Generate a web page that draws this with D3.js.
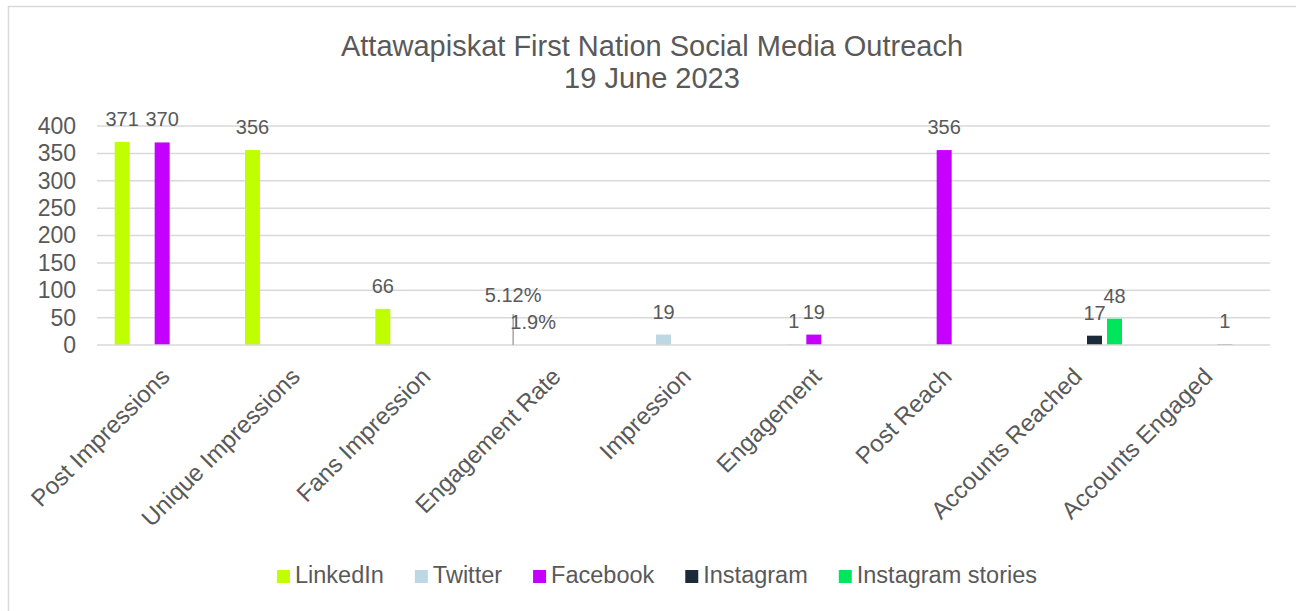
<!DOCTYPE html>
<html>
<head>
<meta charset="utf-8">
<script src="https://cdn.jsdelivr.net/npm/d3@7"></script>
<style>
  html, body { margin: 0; padding: 0; background: #fff; }
  svg { display: block; font-family: "Liberation Sans", Arial, sans-serif; }
</style>
</head>
<body>
<svg id="chart" width="1296" height="611"></svg>
<script>
// ---------- data ----------
const categories = ["Post Impressions", "Unique Impressions", "Fans Impression", "Engagement Rate",
  "Impression", "Engagement", "Post Reach", "Accounts Reached", "Accounts Engaged"];
const seriesNames = ["LinkedIn", "Twitter", "Facebook", "Instagram", "Instagram stories"];
const linkedIn         = [371, 356, 66, 0.0512, null, null, null, null, null];
const twitter          = [null, null, null, 0.019, 19, 1, null, null, null];
const facebook         = [370, null, null, null, null, 19, 356, null, null];
const instagram        = [null, null, null, null, null, null, null, 17, 1];
const instagramStories = [null, null, null, null, null, null, null, 48, null];
const yTicks = [0, 50, 100, 150, 200, 250, 300, 350, 400];
const titleLines = ["Attawapiskat First Nation Social Media Outreach", "19 June 2023"];
const percentCategory = "Engagement Rate";

const seriesValues = [linkedIn, twitter, facebook, instagram, instagramStories];
const colors = ["#bfff00", "#bdd8e4", "#c600ff", "#1c2b39", "#00e65c"];

// ---------- layout ----------
const W = 1296, H = 611;
const plot = { left: 97, right: 1270, top: 126, bottom: 345 };
const textColor = "#595959";
const gridColor = "#d9d9d9";

const svg = d3.select("#chart");
svg.append("rect").attr("width", W).attr("height", H).attr("fill", "#fff");
svg.append("rect").attr("x", 8.5).attr("y", 6.5).attr("width", 1300).attr("height", 620)
  .attr("fill", "none").attr("stroke", gridColor).attr("stroke-width", 1.5);

// title
const title = svg.append("text").attr("text-anchor", "middle").attr("fill", textColor)
  .style("font-size", "29px");
title.selectAll("tspan").data(titleLines).join("tspan")
  .attr("x", 652).attr("y", (d, i) => 56 + i * 32).text(d => d);

// scales
const x0 = d3.scaleBand().domain(categories).range([plot.left, plot.right]).padding(0);
const groupW = 100;
const x1 = d3.scaleBand().domain(seriesNames)
  .range([(x0.bandwidth() - groupW) / 2, (x0.bandwidth() + groupW) / 2])
  .paddingInner(0.25).paddingOuter(0.125);
const y = d3.scaleLinear().domain([0, 400]).range([plot.bottom, plot.top]);
const color = d3.scaleOrdinal().domain(seriesNames).range(colors);

// gridlines (all but zero line)
svg.append("g").selectAll("line").data(yTicks.filter(t => t !== 0)).join("line")
  .attr("x1", plot.left).attr("x2", plot.right)
  .attr("y1", d => y(d)).attr("y2", d => y(d))
  .attr("stroke", gridColor).attr("stroke-width", 1.5);

// y axis labels
const yAxis = d3.axisLeft(y).tickValues(yTicks).tickSize(0).tickPadding(0);
const yg = svg.append("g").attr("transform", `translate(76,0)`).call(yAxis);
yg.select(".domain").remove();
yg.selectAll("text").attr("fill", textColor).style("font-size", "23px")
  .style("font-family", "'Liberation Sans', Arial, sans-serif");

// bars
const records = [];
seriesNames.forEach((s, si) => {
  seriesValues[si].forEach((v, ci) => {
    if (v !== null) records.push({ series: s, cat: categories[ci], value: v });
  });
});

svg.append("g").selectAll("rect").data(records).join("rect")
  .attr("x", d => x0(d.cat) + x1(d.series))
  .attr("width", x1.bandwidth())
  .attr("y", d => y(d.value))
  .attr("height", d => Math.max(0, y(0) - y(d.value)))
  .attr("fill", d => color(d.series));

// category axis line drawn over the bars
svg.append("line").attr("x1", plot.left).attr("x2", plot.right)
  .attr("y1", y(0)).attr("y2", y(0))
  .attr("stroke", gridColor).attr("stroke-width", 1.6);

// data labels
const fmt = d => d.cat === percentCategory ? (+(d.value * 100).toFixed(2)) + "%" : String(d.value);
const labelLift = { "LinkedIn|Engagement Rate": 27 };   // manual label move (with leader line)

const lg = svg.append("g");
records.forEach(d => {
  const cx = x0(d.cat) + x1(d.series) + x1.bandwidth() / 2;
  const top = y(d.value);
  const lift = labelLift[d.series + "|" + d.cat] || 0;
  const base = top - 16 - lift;
  if (lift) {
    lg.append("line").attr("x1", cx).attr("x2", cx).attr("y1", base + 12).attr("y2", top)
      .attr("stroke", "#a6a6a6").attr("stroke-width", 1.5);
  }
  lg.append("text").attr("x", cx).attr("y", base).attr("text-anchor", "middle")
    .attr("fill", textColor).style("font-size", "20px").text(fmt(d));
});

// x axis labels (rotated)
svg.append("g").selectAll("text").data(categories).join("text")
  .attr("transform", d => `translate(${x0(d) + x0.bandwidth() / 2 + 9},378) rotate(-45)`)
  .attr("text-anchor", "end").attr("fill", textColor).style("font-size", "24px")
  .text(d => d);

// legend
const legend = svg.append("g");
let lx = 0;
seriesNames.forEach(s => {
  const g = legend.append("g");
  g.append("rect").attr("x", 0).attr("y", 570).attr("width", 13).attr("height", 13).attr("fill", color(s));
  const t = g.append("text").attr("x", 18).attr("y", 583).attr("fill", textColor)
    .style("font-size", "23.5px").text(s);
  const w = 18 + t.node().getComputedTextLength();
  g.attr("transform", `translate(${lx},0)`);
  lx += w + 31;
});
const totalW = lx - 31;
legend.attr("transform", `translate(${657 - totalW / 2},0)`);
</script>
</body>
</html>
